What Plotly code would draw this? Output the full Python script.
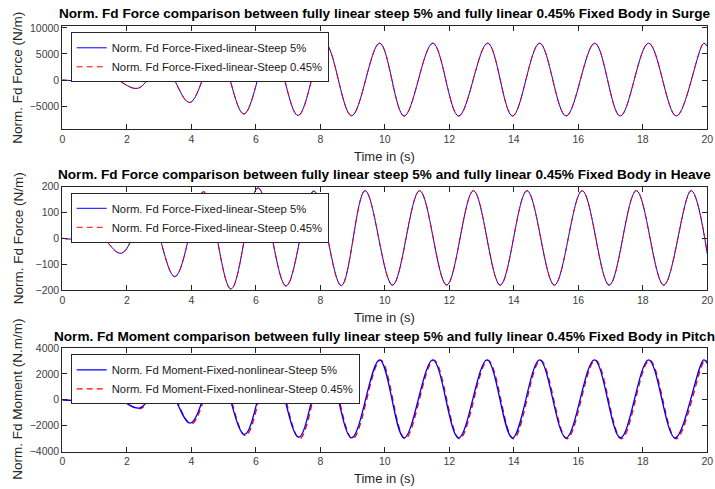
import plotly.graph_objects as go

# ---- data: extrema (time s, value) ----
surge_t_5 = [0.0, 0.76, 1.48, 2.33, 3.12, 3.95, 4.80, 5.63, 6.48, 7.31, 8.15, 8.97, 9.84, 10.60,
             11.49, 12.29, 13.19, 13.96, 14.80, 15.62, 16.51, 17.30, 18.18, 19.04, 19.89, 20.0]
surge_v_5 = [0, -150, 580, -1600, 2900, -4300, 5800, -6500, 6800, -6800, 7000, -6850, 7050, -6900,
             7050, -6900, 7050, -6900, 7050, -6900, 7050, -6900, 7050, -6900, 7050, 6450]
surge_t_045 = surge_t_5
surge_v_045 = [0, -150, 590, -1620, 2920, -4330, 5830, -6530, 6830, -6830, 7030, -6880, 7070, -6920,
               7070, -6920, 7070, -6920, 7070, -6920, 7070, -6920, 7070, -6920, 7070, 6400]

heave_t_5 = [0.0, 0.35, 1.05, 1.83, 2.65, 3.49, 4.38, 5.23, 6.07, 6.94, 7.80, 8.65, 9.39, 10.24,
             11.08, 11.92, 12.75, 13.58, 14.41, 15.26, 16.12, 16.96, 17.80, 18.65, 19.50, 20.0]
heave_v_5 = [0, -3, 22, -58, 105, -148, 180, -196, 195, -184, 183, -183, 184, -181,
             184, -181, 184, -181, 184, -181, 184, -181, 184, -181, 184, -61]
heave_t_045 = heave_t_5
heave_v_045 = [0, -3, 22, -58, 106, -149, 179, -197, 193, -185, 182, -184, 184, -182,
               184, -182, 184, -182, 184, -182, 184, -182, 184, -182, 184, -60]

pitch_t_5 = [0.0, 0.87, 1.55, 2.39, 3.15, 3.97, 4.80, 5.65, 6.48, 7.33, 8.15, 8.97, 9.84, 10.60,
             11.49, 12.29, 13.17, 13.96, 14.80, 15.62, 16.50, 17.31, 18.18, 19.00, 19.89, 20.0]
pitch_v_5 = [0, -50, 280, -640, 1300, -1800, 2400, -2680, 2900, -2900, 3050, -2950, 3080, -2950,
             3080, -2950, 3080, -2950, 3080, -2950, 3080, -2950, 3080, -2950, 3080, 2800]
pitch_t_045 = [0.0, 0.90, 1.58, 2.42, 3.18, 4.00, 4.83, 5.68, 6.51, 7.36, 8.18, 9.00, 9.87, 10.63,
               11.52, 12.32, 13.20, 13.99, 14.83, 15.65, 16.53, 17.34, 18.21, 19.03, 19.92, 20.0]
pitch_v_045 = [0, -55, 290, -680, 1320, -1870, 2420, -2780, 2920, -3000, 3060, -3020, 3060, -3020,
               3060, -3020, 3060, -3020, 3060, -3020, 3060, -3020, 3060, -3020, 3060, 2950]

x_ticks = [0, 2, 4, 6, 8, 10, 12, 14, 16, 18, 20]
surge_ticks = [-5000, 0, 5000, 10000]
heave_ticks = [-200, -100, 0, 100, 200]
pitch_ticks = [-4000, -2000, 0, 2000, 4000]

titles = [
    "Norm. Fd Force comparison between fully linear steep 5% and fully linear 0.45% Fixed Body in Surge",
    "Norm. Fd Force comparison between fully linear steep 5% and fully linear 0.45% Fixed Body in Heave",
    "Norm. Fd Moment comparison between fully linear steep 5% and fully linear 0.45% Fixed Body in Pitch",
]
ylabels = ["Norm. Fd Force (N/m)", "Norm. Fd Force (N/m)", "Norm. Fd Moment (N.m/m)"]
names = [
    ("Norm. Fd Force-Fixed-linear-Steep 5%", "Norm. Fd Force-Fixed-linear-Steep 0.45%"),
    ("Norm. Fd Force-Fixed-linear-Steep 5%", "Norm. Fd Force-Fixed-linear-Steep 0.45%"),
    ("Norm. Fd Moment-Fixed-nonlinear-Steep 5%", "Norm. Fd Moment-Fixed-nonlinear-Steep 0.45%"),
]

W, H = 715, 489
FONT = "Liberation Sans, Arial, Helvetica, sans-serif"
AX = "#262626"

# pixel layout of the three axes boxes (top, bottom)
boxes = [(26, 129.3), (186.5, 290), (348, 451.5)]
xl, xr = 62.3, 707.3

fig = go.Figure()


def py(p):
    return 1 - p / H


series = [
    (surge_t_5, surge_v_5, surge_t_045, surge_v_045, 1.0, False),
    (heave_t_5, heave_v_5, heave_t_045, heave_v_045, 1.0, False),
    (pitch_t_5, pitch_v_5, pitch_t_045, pitch_v_045, 1.3, True),
]
yranges = [[-9450, 10350], [-200, 200], [-4000, 4000]]
yticks = [surge_ticks, heave_ticks, pitch_ticks]

for i, (t5, v5, t4, v4, lw, blue_on_top) in enumerate(series):
    xa = "x" if i == 0 else f"x{i+1}"
    ya = "y" if i == 0 else f"y{i+1}"
    lg = "legend" if i == 0 else f"legend{i+1}"
    blue = go.Scatter(x=t5, y=v5, mode="lines", name=names[i][0], xaxis=xa, yaxis=ya,
                      legend=lg, legendrank=1,
                      line=dict(color="#0000FF", width=lw, shape="spline", smoothing=1.0))
    red = go.Scatter(x=t4, y=v4, mode="lines", name=names[i][1], xaxis=xa, yaxis=ya,
                     legend=lg, legendrank=2,
                     line=dict(color="#FF0000", width=lw, dash="6px,4px", shape="spline", smoothing=1.0))
    if blue_on_top:
        fig.add_trace(red)
        fig.add_trace(blue)
    else:
        fig.add_trace(blue)
        fig.add_trace(red)

layout = dict(
    template="none",
    width=W, height=H, autosize=False,
    margin=dict(l=0, r=0, t=0, b=0, pad=0, autoexpand=False),
    paper_bgcolor="white", plot_bgcolor="white",
    font=dict(family=FONT, color=AX),
    showlegend=True,
)

annotations = []
for i, (top, bot) in enumerate(boxes):
    sfx = "" if i == 0 else str(i + 1)
    layout["xaxis" + sfx] = dict(
        domain=[xl / W, xr / W], range=[0, 20], tickvals=x_ticks, tickformat="d",
        ticks="inside", ticklen=5, tickcolor=AX, showline=True, linecolor=AX, linewidth=1,
        mirror="ticks", showgrid=False, zeroline=False, automargin=False,
        tickfont=dict(size=10.5, color="#404040", family=FONT),
        anchor="y" + sfx,
    )
    layout["yaxis" + sfx] = dict(
        domain=[py(bot), py(top)], range=yranges[i], tickvals=yticks[i], tickformat="d",
        ticks="inside", ticklen=5, tickcolor=AX, showline=True, linecolor=AX, linewidth=1,
        mirror="ticks", showgrid=False, zeroline=False, automargin=False,
        tickfont=dict(size=10.5, color="#404040", family=FONT),
        anchor="x" + sfx,
    )
    legkey = "legend" if i == 0 else f"legend{i+1}"
    layout[legkey] = dict(
        x=70.7 / W, y=py(top + 6.3), xanchor="left", yanchor="top",
        xref="paper", yref="paper",
        bgcolor="white", bordercolor=AX, borderwidth=1,
        font=dict(size=11.3, family=FONT, color="#1a1a1a"),
        itemwidth=30, tracegroupgap=0,
    )
    # title
    annotations.append(dict(text="<b>" + titles[i] + "</b>", x=(xl + xr) / 2 / W, y=py(top - 12),
                            xref="paper", yref="paper", showarrow=False, xanchor="center",
                            yanchor="middle", font=dict(size=13.6, family=FONT, color="black")))
    # x label
    annotations.append(dict(text="Time in (s)", x=(xl + xr) / 2 / W, y=py(bot + 27),
                            xref="paper", yref="paper", showarrow=False, xanchor="center",
                            yanchor="middle", font=dict(size=13, family=FONT, color=AX)))
    # y label
    annotations.append(dict(text=ylabels[i], x=18 / W, y=py((top + bot) / 2),
                            xref="paper", yref="paper", showarrow=False, xanchor="center",
                            yanchor="middle", textangle=-90,
                            font=dict(size=13.5, family=FONT, color=AX)))

layout["annotations"] = annotations
fig.update_layout(**layout)
fig.write_html("out.html")
